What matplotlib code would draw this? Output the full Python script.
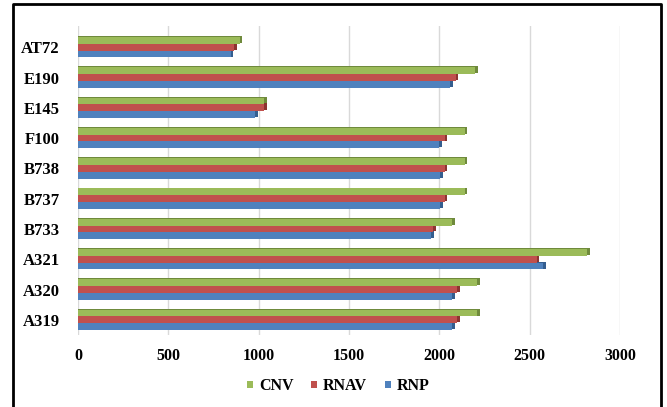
import matplotlib.pyplot as plt
import numpy as np
from matplotlib.lines import Line2D

aircraft = ["A319", "A320", "A321", "B733", "B737", "B738", "F100", "E145", "E190", "AT72"]
cnv = [2210, 2210, 2820, 2070, 2140, 2140, 2140, 1030, 2200, 895]
rnav = [2100, 2100, 2540, 1965, 2030, 2030, 2030, 1030, 2090, 865]
rnp = [2070, 2070, 2575, 1955, 2005, 2005, 2000, 980, 2060, 845]

plt.rcParams['font.family'] = ['Liberation Serif', 'DejaVu Serif']

fig = plt.figure(figsize=(6.67, 4.07), dpi=100)
ax = fig.add_axes([78 / 667, 1 - 335 / 407, 542 / 667, 309 / 407])

y = np.arange(len(aircraft))
h = 0.225
series = [("CNV", cnv, "#9BBB59", "#6F8A3C", h),
          ("RNAV", rnav, "#C0504D", "#8C3431", 0),
          ("RNP", rnp, "#4F81BD", "#345E8F", -h)]

for name, vals, col, dark, off in series:
    # darker side face to fake the 3D look
    ax.barh(y + off + 0.03, np.array(vals) + 14, height=h, color=dark, zorder=2)
    ax.barh(y + off, vals, height=h, color=col, label=name, zorder=3)

ax.set_xlim(0, 3000)
ax.set_ylim(-0.5, 9.7)
ax.set_yticks(y)
ax.set_yticklabels(aircraft, fontsize=12, fontweight='bold')
ax.set_xticks(np.arange(0, 3001, 500))
ax.set_xticklabels([str(v) for v in range(0, 3001, 500)], fontsize=11.5, fontweight='bold')
ax.tick_params(length=0, pad=9)
ax.tick_params(axis='y', pad=13)
ax.grid(axis='x', color='#D9D9D9', linewidth=1, zorder=0)
for s in ax.spines.values():
    s.set_visible(False)

ax.legend(loc='center', bbox_to_anchor=(0.48, -0.165), ncol=3, frameon=False,
          prop={'weight': 'bold', 'size': 11.5}, handlelength=0.4, handleheight=0.3,
          handletextpad=0.35, columnspacing=1.1)

# frame round the chart (left, top, right)
fx = [13.5 / 667, 13.5 / 667, 660.5 / 667, 660.5 / 667]
fy = [0, 1 - 4 / 407, 1 - 4 / 407, 0]
fig.add_artist(Line2D(fx, fy, transform=fig.transFigure, color='black', linewidth=2))

fig.savefig("out.png", dpi=100)
